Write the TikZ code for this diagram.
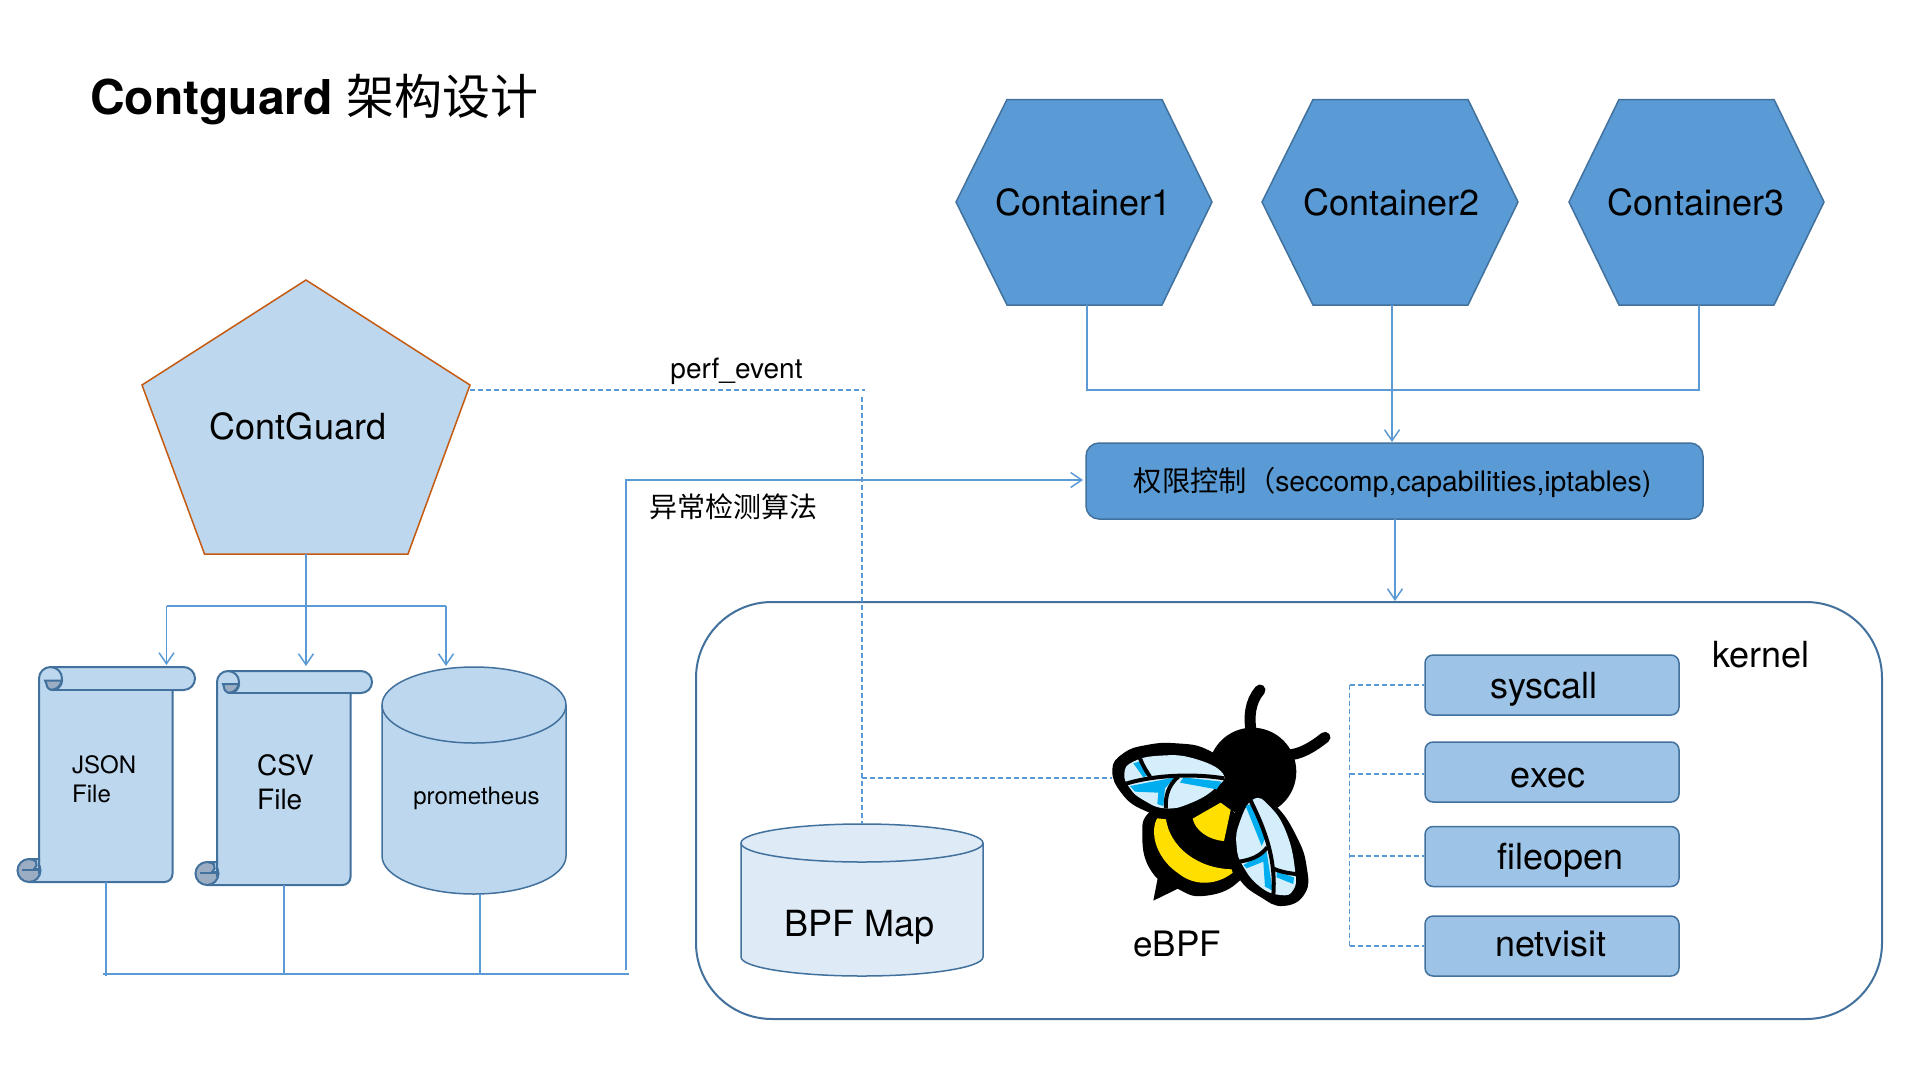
\documentclass[tikz,border=0pt]{standalone}
\usepackage{fontspec}
\setmainfont{TeX Gyre Heros}
\newfontfamily\cjk{Noto Sans CJK SC}
\usetikzlibrary{arrows.meta}
\definecolor{linec}{HTML}{5B9BD5}
\definecolor{edgec}{HTML}{41719C}
\definecolor{lightb}{HTML}{BDD7EE}
\definecolor{midb}{HTML}{9DC3E6}
\definecolor{paleb}{HTML}{DEEBF7}
\definecolor{orangec}{HTML}{C55A11}
\definecolor{curlc}{HTML}{9AADC2}
\definecolor{winglight}{HTML}{D4EEFC}
\definecolor{wingcyan}{HTML}{00AEEF}
\definecolor{beeyellow}{HTML}{FFDF00}
\newcommand{\fs}[1]{\fontsize{#1}{#1}\selectfont}
\tikzset{
  conn/.style={draw=linec,line width=1.5pt},
  arr/.style={conn,-{Straight Barb[length=11pt,width=15pt,line width=1.5pt]}},
  dashln/.style={draw=linec,line width=1.5pt,dash pattern=on 5pt off 3pt},
  hexa/.style={fill=linec,draw=edgec,line width=1.5pt},
  lbl/.style={inner sep=0pt,text=black},
  small/.style={rectangle,rounded corners=8pt,fill=midb,draw=edgec,line width=1.5pt,
     minimum width=254pt,minimum height=60pt,inner sep=0pt},
  cyl/.style={draw=edgec,line width=1.5pt},
  vein/.style={draw=black,line width=4pt},
}
% scroll: #1 left #2 top #3 width #4 band height #5 band right #6 height
\newcommand{\scrollshape}[6]{%
\begin{scope}[xshift=#1pt,yshift=-#2pt,draw=edgec,line width=2pt]
  \path[fill=lightb,draw=edgec]
     (0,{#4/2}) arc[start angle=180,end angle=90,radius=#4/2*1pt]
     -- ({#5-#4/2},0) arc[start angle=90,end angle=-90,radius=#4/2*1pt]
     -- (#3,#4) -- (#3,{#6-8}) arc[start angle=0,end angle=-90,radius=8pt]
     -- (-9,#6) -- (-9,{#6-23}) -- (0,{#6-23}) -- cycle;
  % top curl
  \path[fill=curlc,draw=edgec] (6,{#4/2+2}) -- ({#4},{#4/2+2}) arc[start angle=0,end angle=-90,radius=(#4/2-2)*1pt]
     -- ({#4/2+2},#4) arc[start angle=270,end angle=180,radius=6pt] -- cycle;
  \draw ({#4/2},0) arc[start angle=90,end angle=-90,radius=#4/2*1pt];
  \draw ({#4/2},#4) -- ({#5-#4/2},#4);
  % bottom curl
  \path[fill=curlc,draw=edgec] (-10,{#6-23}) arc[start angle=90,end angle=270,radius=11.5pt]
     arc[start angle=270,end angle=450,radius=11.5pt];
  \path[fill=lightb,draw=edgec] (-9,{#6-23}) -- (0,{#6-23}) -- (0,{#6-13}) -- (-5,{#6-13})
     arc[start angle=-60,end angle=60,radius=5.5pt] -- cycle;
  \draw (-17,{#6-12}) -- (0,{#6-12});
  \draw (0,{#6-23}) -- (0,{#6-8});
\end{scope}}
% cylinder: #1 left #2 top #3 width #4 ry #5 height #6 fill
\newcommand{\drum}[6]{%
\begin{scope}[xshift=#1pt,yshift=-#2pt]
  \path[cyl,fill=#6] (0,#4) -- (0,{#5-#4}) arc[start angle=180,end angle=360,x radius=#3/2,y radius=-#4]
     -- (#3,#4) arc[start angle=0,end angle=180,x radius=#3/2,y radius=-#4] -- cycle;
  \draw[cyl] (0,#4) arc[start angle=180,end angle=360,x radius=#3/2,y radius=-#4];
\end{scope}}
\begin{document}
\begin{tikzpicture}[x=1pt,y=-1pt]
\useasboundingbox[fill=white] (0,0) rectangle (1920,1080);

% title
\node[lbl,anchor=west] (title) at (90,100) {\fs{48}\bfseries Contguard {\cjk\mdseries\fs{48}架构设计}};

% containers
\path[hexa] (956,202) -- (1007,99.5) -- (1162,99.5) -- (1212,202) -- (1162,305) -- (1007,305) -- cycle;
\path[hexa] (1262,202) -- (1313,99.5) -- (1468,99.5) -- (1518,202) -- (1468,305) -- (1313,305) -- cycle;
\path[hexa] (1569,202) -- (1619,99.5) -- (1774,99.5) -- (1824,202) -- (1774,305) -- (1619,305) -- cycle;
\node[lbl] (c1) at (1083.5,202) {\fs{36}Container1};
\node[lbl] (c2) at (1391.5,202) {\fs{36}Container2};
\node[lbl] (c3) at (1696,202) {\fs{36}Container3};

% pentagon
\path[fill=lightb,draw=orangec,line width=1.5pt] (306,280) -- (470,385) -- (408,554) -- (204.5,554) -- (142,385) -- cycle;
\node[lbl] (cg) at (298,426) {\fs{36}ContGuard};

% permission box
\node[rectangle,rounded corners=13pt,fill=linec,draw=edgec,line width=1.5pt,minimum width=617pt,minimum height=76pt,inner sep=0pt] (perm) at (1394.5,481) {};
\node[lbl] (permt) at (1392.5,482) {\fs{28.3}{\cjk 权限控制（}seccomp,capabilities,iptables)};

% kernel
\node[rectangle,rounded corners=76pt,draw=edgec,line width=2pt,minimum width=1186pt,minimum height=417pt,inner sep=0pt] (kern) at (1289,810.5) {};
\node[lbl] (kernt) at (1761,655) {\fs{36}kernel};

% small boxes
\node[small] (sys) at (1552,685) {};
\node[small] (exe) at (1552,772) {};
\node[small] (fop) at (1552,856.5) {};
\node[small] (net) at (1552,946) {};
\node[lbl] at (1544,689) {\fs{36}syscall};
\node[lbl] at (1548,778) {\fs{36}exec};
\node[lbl] at (1560.5,860) {\fs{36}fileopen};
\node[lbl] at (1551,944) {\fs{36}netvisit};

% storages
\scrollshape{39}{667}{133.5}{23}{156}{215}
\scrollshape{217}{671}{133.5}{22}{155}{214}
\drum{382}{667}{184}{38}{227}{lightb}
\drum{741}{824}{242}{19}{152}{paleb}
\node[lbl,align=left,anchor=north west,font=\fs{24}] (json) at (72,755) {JSON\\[5pt]File};
\node[lbl,align=left,anchor=north west,font=\fs{28}] (csv) at (257,754.5) {CSV\\[6pt]File};
\node[lbl] (prom) at (476.5,798.5) {\fs{24}prometheus};
\node[lbl] (bpf) at (859.5,927) {\fs{36}BPF Map};
\node[lbl] (ebpf) at (1177,944) {\fs{35}eBPF};

% labels
\node[lbl] (perf) at (736.5,371.5) {\fs{28}perf\_event};
\node[lbl,anchor=west] (algo) at (649,507) {\fs{28}\cjk 异常检测算法};

% coordinates
\coordinate (c1b) at (1087,305); \coordinate (c2b) at (1392,305); \coordinate (c3b) at (1699,305);
\coordinate (c1j) at (1087,390); \coordinate (c2j) at (1392,390); \coordinate (c3j) at (1700,390);
\coordinate (permtop) at (1392,442);
\coordinate (permbot) at (1395,519);
\coordinate (kerntop) at (1395,601);
\coordinate (pb) at (306,554); \coordinate (pj) at (306,606);
\coordinate (lj) at (166.5,606); \coordinate (rj) at (446,606);
\coordinate (jt) at (166.5,665); \coordinate (ct) at (306,666); \coordinate (pt) at (446,666);
\coordinate (jb) at (106,882); \coordinate (cb) at (284,885); \coordinate (prb) at (480,894);
\coordinate (bl) at (103,974); \coordinate (br) at (629,974);
\coordinate (jj) at (106,976); \coordinate (cj) at (284,974); \coordinate (prj) at (480,974);
\coordinate (up) at (626,970); \coordinate (upt) at (626,480); \coordinate (perml) at (1083,480);
\coordinate (ps) at (470,390); \coordinate (pe) at (865,390);
\coordinate (vt) at (862,397); \coordinate (vb) at (862,824); \coordinate (vm) at (862,778); \coordinate (bee) at (1112,778);
\coordinate (bt) at (1349.5,685); \coordinate (bb) at (1349.5,946);
\coordinate (b2) at (1349.5,774); \coordinate (b3) at (1349.5,856);

% connectors
\draw[conn] (c1b) -- (c1j) -- (c3j);
\draw[conn] (c3b) -- (c3b |- c3j);
\draw[arr] (c2b) -- (permtop);
\draw[arr] (permbot) -- (kerntop);
\draw[conn] (pb) -- (pj); \draw[conn] (lj) -- (rj);
\draw[arr] (lj) -- (jt); \draw[arr] (pj) -- (ct); \draw[arr] (rj) -- (pt);
\draw[conn] (jb) -- (jj); \draw[conn] (cb) -- (cj); \draw[conn] (prb) -- (prj);
\draw[conn,line width=2pt] (bl) -- (br);
\draw[arr] (up) -- (upt) -- (perml);
\draw[dashln] (ps) -- (pe);
\draw[dashln] (vt) -- (vb);
\draw[dashln] (vm) -- (bee);
\draw[dashln] (bt) -- (bb);
\draw[dashln] (bt) -- (sys.west |- bt);
\draw[dashln] (b2) -- (exe.west |- b2);
\draw[dashln] (b3) -- (fop.west |- b3);
\draw[dashln] (bb) -- (net.west |- bb);

% bee (coordinates of a 3x crop)
\begin{scope}[xshift=1080pt,yshift=-660pt,x=0.3333pt,y=-0.3333pt]
  \draw[black,line width=11pt,line cap=round] (515,225) .. controls (505,170) and (510,125) .. (540,90);
  \draw[black,line width=11pt,line cap=round] (620,285) .. controls (660,285) and (700,260) .. (735,232);
  \fill[black] (517,335) circle[radius=132];
  \fill[black] plot[smooth cycle,tension=0.8] coordinates {(187,530) (215,450) (330,400) (450,440) (490,600) (470,670) (370,708) (290,685) (215,635)};
  \fill[black] (238,630) -- (220,722) -- (300,683) -- cycle;
  \fill[beeyellow] (222,515) .. controls (222,495) and (228,480) .. (232,475) -- (258,478) .. controls (270,560) and (350,625) .. (455,628) -- (458,638) .. controls (420,670) and (350,685) .. (295,640) .. controls (250,610) and (222,560) .. (222,515) -- cycle;
  \fill[beeyellow] (338,476) -- (422,428) -- (452,450) -- (432,543) .. controls (385,540) and (345,510) .. (338,476) -- cycle;
  % left wing
  \fill[black] plot[smooth cycle,tension=0.8] coordinates {(97,330) (130,280) (200,255) (290,250) (380,268) (435,320) (420,390) (360,435) (270,465) (190,450) (125,400)};
  \fill[winglight] plot[smooth cycle,tension=0.8] coordinates {(133,340) (160,305) (240,287) (340,295) (428,340) (405,385) (330,430) (255,445) (190,420) (150,385)};
  \fill[wingcyan] (150,378) -- (285,352) -- (255,385) -- (250,438) -- (232,432) -- (235,398) -- (165,395) -- cycle;
  \fill[wingcyan] (310,352) -- (425,365) -- (410,388) -- (300,368) -- cycle;
  \fill[wingcyan] (160,310) -- (178,305) -- (205,345) -- (190,352) -- cycle;
  \draw[vein] (135,372) .. controls (220,345) and (340,340) .. (432,355);
  \draw[vein] (180,295) .. controls (190,320) and (200,335) .. (210,350);
  \draw[vein] (295,350) .. controls (265,375) and (255,410) .. (258,445);
  % right wing
  \fill[black] plot[smooth cycle,tension=0.8] coordinates {(445,520) (480,430) (530,410) (590,440) (650,530) (680,620) (675,700) (610,738) (540,710) (480,660) (450,590)};
  \fill[winglight] plot[smooth cycle,tension=0.8] coordinates {(520,418) (570,440) (620,520) (645,630) (640,690) (600,705) (540,680) (490,620) (470,560) (478,490)};
  \fill[wingcyan] (497,438) -- (518,430) -- (558,530) -- (545,558) -- cycle;
  \fill[wingcyan] (490,615) -- (560,575) -- (578,692) -- (555,680) -- (550,605) -- (500,625) -- cycle;
  \fill[wingcyan] (590,635) -- (642,652) -- (640,672) -- (590,652) -- cycle;
  \draw[vein] (510,418) .. controls (540,480) and (590,580) .. (580,705);
  \draw[vein] (478,605) .. controls (510,600) and (540,590) .. (562,562);
  \draw[vein] (578,625) .. controls (600,635) and (625,640) .. (648,642);
\end{scope}
\end{tikzpicture}
\end{document}
